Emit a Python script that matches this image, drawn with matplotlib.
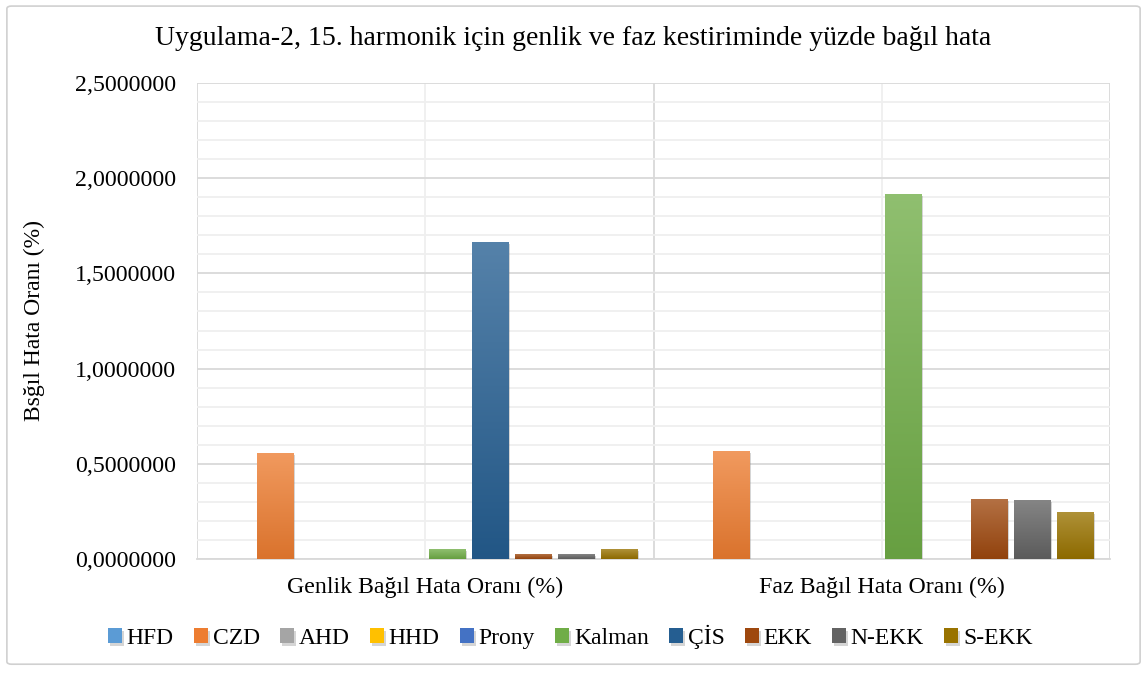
import matplotlib.pyplot as plt
import matplotlib.patheffects as pe
import numpy as np
from matplotlib.colors import to_rgb
from matplotlib.patches import FancyBboxPatch
from matplotlib.ticker import MultipleLocator, FuncFormatter

plt.rcParams['font.family'] = ['Liberation Serif', 'DejaVu Serif']

categories = ['Genlik Bağıl Hata Oranı (%)', 'Faz Bağıl Hata Oranı (%)']
series = ['HFD', 'CZD', 'AHD', 'HHD', 'Prony', 'Kalman', 'ÇİS', 'EKK', 'N-EKK', 'S-EKK']
values = {
    'HFD':    [0.0, 0.0],
    'CZD':    [0.557, 0.567],
    'AHD':    [0.0, 0.0],
    'HHD':    [0.0, 0.0],
    'Prony':  [0.0, 0.0],
    'Kalman': [0.052, 1.917],
    'ÇİS':    [1.665, 0.0],
    'EKK':    [0.026, 0.315],
    'N-EKK':  [0.026, 0.310],
    'S-EKK':  [0.052, 0.247],
}
colors = ['#5B9BD5', '#ED7D31', '#A5A5A5', '#FFC000', '#4472C4',
          '#70AD47', '#255E91', '#9E480E', '#636363', '#997300']


def mix(c, other, t):
    a = np.array(to_rgb(c))
    b = np.array(to_rgb(other))
    return tuple(a * (1 - t) + b * t)


fig = plt.figure(figsize=(11.47, 6.75), dpi=100)
ax = fig.add_axes([0.1718, 0.1719, 0.7959, 0.7051])

# outer frame of the chart
fig.patches.append(FancyBboxPatch((0.006, 0.016), 0.988, 0.975, boxstyle='round,pad=0,rounding_size=0.004',
                                  transform=fig.transFigure, fill=False, edgecolor='#D0D0D0', linewidth=1.2))

x = np.arange(len(categories))
slot = 0.0942
width = 0.079
n = len(series)
for i, (name, col) in enumerate(zip(series, colors)):
    pos = x + (i - (n - 1) / 2) * slot
    bars = ax.bar(pos, values[name], width, color=col, label=name, zorder=3,
                  path_effects=[pe.SimplePatchShadow(offset=(1.5, -1.5), shadow_rgbFace='#888888', alpha=0.35),
                                pe.Normal()])
    # excel-like vertical gradient fill
    top_c = mix(col, 'white', 0.22)
    bot_c = mix(col, 'black', 0.08)
    grad = np.array([mix(top_c, bot_c, t) for t in np.linspace(0, 1, 64)]).reshape(64, 1, 3)
    for b in bars:
        h = b.get_height()
        if h <= 0:
            continue
        im = ax.imshow(grad, extent=[b.get_x(), b.get_x() + b.get_width(), 0, h],
                       aspect='auto', zorder=4, interpolation='bilinear')
        im.set_clip_path(b)

ax.set_xlim(-0.5, 1.5)
ax.set_ylim(0, 2.5)

ax.yaxis.set_major_locator(MultipleLocator(0.5))
ax.yaxis.set_minor_locator(MultipleLocator(0.1))
ax.yaxis.set_major_formatter(FuncFormatter(lambda v, p: f'{v:.7f}'.replace('.', ',')))
ax.set_xticks(x)
ax.set_xticklabels(categories)

ax.grid(axis='y', which='major', color='#D9D9D9', linewidth=1.3, zorder=0)
ax.grid(axis='y', which='minor', color='#EFEFEF', linewidth=1.3, zorder=0)
for xv in [-0.5, 0.5, 1.5]:
    ax.axvline(xv, color='#D9D9D9', linewidth=1.3, zorder=0)
for xv in x:
    ax.axvline(xv, color='#EFEFEF', linewidth=1.3, zorder=0)

for s in ['top', 'right', 'left']:
    ax.spines[s].set_visible(False)
ax.spines['bottom'].set_color('#D9D9D9')
ax.spines['bottom'].set_linewidth(1.3)
ax.tick_params(axis='both', which='both', length=0, labelsize=17.2, colors='black')
ax.tick_params(axis='x', pad=13)
ax.tick_params(axis='y', pad=15)

ax.set_ylabel('Bsğıl Hata Oranı (%)', fontsize=17, labelpad=22)
fig.suptitle('Uygulama-2, 15. harmonik için genlik ve faz kestiriminde yüzde bağıl hata',
             fontsize=20, y=0.962)

fig.legend(loc='center', bbox_to_anchor=(0.497, 0.056), ncol=10, frameon=False,
           fontsize=17, handlelength=0.6, handleheight=0.6, handletextpad=0.2,
           columnspacing=0.85)

fig.savefig('out.png', dpi=100)
